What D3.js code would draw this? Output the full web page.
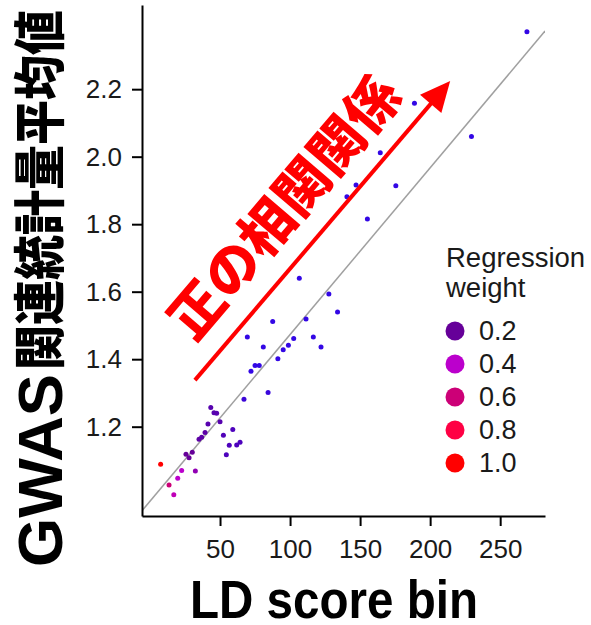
<!DOCTYPE html>
<html>
<head>
<meta charset="utf-8">
<script src="https://cdn.jsdelivr.net/npm/d3@7"></script>
<style>
  html, body { margin: 0; padding: 0; background: #fff; }
  svg { display: block; }
</style>
</head>
<body>
<svg id="chart" width="591" height="625"></svg>
<script>
// LD score bins (x), mean GWAS chi-square statistic (y), regression weight (colour)
const ldScore = [269.1, 188.8, 229.5, 164.4, 175.5, 147.1, 140.6, 155.2, 106.6, 127.7,
                 133.9, 87.6, 111.4, 69.5, 116.6, 102.6, 80.9, 98.8, 95.1, 122.1,
                 91.3, 75.0, 78.0, 72.1, 84.3, 67.1, 43.4, 45.7, 47.6, 50.0,
                 41.4, 59.1, 39.3, 52.4, 36.9, 35.0, 64.3, 61.9, 56.6, 30.2,
                 25.7, 27.9, 54.5, 7.6, 22.6, 32.4, 19.8, 13.6, 17.0];
const meanChi2 = [2.370, 2.158, 2.060, 2.012, 1.914, 1.916, 1.881, 1.815, 1.640, 1.593,
                  1.540, 1.512, 1.519, 1.466, 1.466, 1.461, 1.436, 1.441, 1.428, 1.436,
                  1.401, 1.381, 1.381, 1.364, 1.301, 1.281, 1.257, 1.241, 1.240, 1.215,
                  1.208, 1.192, 1.183, 1.175, 1.169, 1.163, 1.154, 1.146, 1.145, 1.124,
                  1.118, 1.108, 1.117, 1.089, 1.070, 1.069, 1.047, 1.027, 0.998];
const weights = [0.03, 0.03, 0.03, 0.03, 0.03, 0.03, 0.03, 0.03, 0.03, 0.03,
                 0.03, 0.03, 0.03, 0.03, 0.03, 0.03, 0.03, 0.03, 0.03, 0.03,
                 0.03, 0.03, 0.03, 0.03, 0.05, 0.06, 0.15, 0.15, 0.15, 0.15,
                 0.15, 0.12, 0.17, 0.13, 0.17, 0.17, 0.12, 0.12, 0.12, 0.2,
                 0.2, 0.2, 0.12, 1.0, 0.4, 0.3, 0.4, 0.6, 0.45];

// Fitted regression line: mean chi2 = intercept + slope * LD score
const fitIntercept = 0.979;
const fitSlope = 0.00494;

const xTicks = [50, 100, 150, 200, 250];
const yTicks = [1.2, 1.4, 1.6, 1.8, 2.0, 2.2];
const legendValues = [0.2, 0.4, 0.6, 0.8, 1.0];
const weightStops = [0, 0.2, 0.4, 0.6, 0.8, 1.0];
const weightColors = ["#2a08f2", "#660099", "#bb00cc", "#cc0077", "#ff0044", "#ff0000"];

// Annotation arrow, in data units
const arrowFrom = [32.1, 1.338];
const arrowTo = [214.3, 2.224];
const noteCenter = [93.9, 1.858];
const noteText = "正の相関関係";

const svg = d3.select("#chart");

const x = d3.scaleLinear().domain([-5.7, 282]).range([142, 545]);
const y = d3.scaleLinear().domain([0.9354, 2.4494]).range([516, 5]);
const colour = d3.scaleLinear().domain(weightStops).range(weightColors).interpolate(d3.interpolateRgb);

const tickFont = "'Liberation Sans', Arial, Helvetica, sans-serif";
const cjkFont = "'Noto Sans CJK JP', sans-serif";

svg.append("defs").append("clipPath").attr("id", "panel")
  .append("rect")
  .attr("x", x.range()[0]).attr("y", y.range()[1])
  .attr("width", x.range()[1] - x.range()[0])
  .attr("height", y.range()[0] - y.range()[1]);

// Regression line
const [x0, x1] = x.domain();
svg.append("line")
  .attr("clip-path", "url(#panel)")
  .attr("x1", x(x0)).attr("y1", y(fitIntercept + fitSlope * x0))
  .attr("x2", x(x1)).attr("y2", y(fitIntercept + fitSlope * x1))
  .attr("stroke", "#a0a0a0")
  .attr("stroke-width", 1.5);

// Points
const points = ldScore.map((v, i) => ({ x: v, y: meanChi2[i], w: weights[i] }));
svg.append("g").selectAll("circle")
  .data(points)
  .join("circle")
  .attr("cx", d => x(d.x))
  .attr("cy", d => y(d.y))
  .attr("r", 2.5)
  .attr("fill", d => colour(d.w));

// Axes
const xAxis = svg.append("g")
  .attr("transform", `translate(0,${y.range()[0]})`)
  .call(d3.axisBottom(x).tickValues(xTicks).tickSize(10).tickSizeOuter(0).tickPadding(14));
const yAxis = svg.append("g")
  .attr("transform", `translate(${x.range()[0]},0)`)
  .call(d3.axisLeft(y).tickValues(yTicks).tickFormat(d3.format(".1f")).tickSize(10).tickSizeOuter(0).tickPadding(10));

[xAxis, yAxis].forEach(g => {
  g.select(".domain").attr("stroke", "#000").attr("stroke-width", 2);
  g.selectAll(".tick line").attr("stroke", "#000").attr("stroke-width", 2);
  g.selectAll(".tick text")
    .attr("fill", "#1a1a1a")
    .style("font-family", tickFont)
    .style("font-size", "26px");
});

// Axis titles
svg.append("text")
  .attr("x", 190).attr("y", 618)
  .attr("textLength", 288)
  .attr("lengthAdjust", "spacingAndGlyphs")
  .style("font-family", tickFont)
  .style("font-weight", "bold")
  .style("font-size", "53px")
  .attr("fill", "#000")
  .text("LD score bin");

// Vertical title: Latin part and Japanese part, each condensed to its own length
const yTitle = svg.append("g").attr("transform", "translate(62,567) rotate(-90)");
yTitle.append("text")
  .attr("x", 0).attr("y", 0)
  .attr("textLength", 193)
  .attr("lengthAdjust", "spacingAndGlyphs")
  .style("font-family", tickFont)
  .style("font-weight", "bold")
  .style("font-size", "63px")
  .attr("fill", "#000")
  .text("GWAS");
yTitle.append("text")
  .attr("x", 197).attr("y", -3)
  .attr("textLength", 360)
  .attr("lengthAdjust", "spacingAndGlyphs")
  .style("font-family", cjkFont)
  .style("font-weight", 900)
  .style("font-size", "52px")
  .attr("fill", "#000")
  .text("関連統計量平均値");

// Legend
const legend = svg.append("g").attr("transform", "translate(446,0)");
legend.append("text").attr("x", 0).attr("y", 267)
  .style("font-family", tickFont).style("font-size", "27.5px").attr("fill", "#1a1a1a")
  .text("Regression");
legend.append("text").attr("x", 0).attr("y", 297)
  .style("font-family", tickFont).style("font-size", "27.5px").attr("fill", "#1a1a1a")
  .text("weight");
const key = d3.scalePoint().domain(legendValues).range([331, 463]);
const items = legend.selectAll("g.item").data(legendValues).join("g")
  .attr("class", "item")
  .attr("transform", d => `translate(0,${key(d)})`);
items.append("circle").attr("cx", 9).attr("cy", 0).attr("r", 9.5).attr("fill", d => colour(d));
items.append("text").attr("x", 33).attr("y", 0).attr("dy", "0.35em")
  .style("font-family", tickFont).style("font-size", "27px").attr("fill", "#1a1a1a")
  .text(d => d3.format(".1f")(d));

// Arrow and note
const ax0 = x(arrowFrom[0]), ay0 = y(arrowFrom[1]);
const ax1 = x(arrowTo[0]), ay1 = y(arrowTo[1]);
const ang = Math.atan2(ay1 - ay0, ax1 - ax0);
const headLen = 30, headHalf = 14;
const ux = Math.cos(ang), uy = Math.sin(ang);
const bx = ax1 - ux * headLen, by = ay1 - uy * headLen;
svg.append("line")
  .attr("x1", ax0).attr("y1", ay0)
  .attr("x2", bx + ux * 2).attr("y2", by + uy * 2)
  .attr("stroke", "#ff0000").attr("stroke-width", 4);
svg.append("path")
  .attr("d", `M${ax1},${ay1} L${bx - uy * headHalf},${by + ux * headHalf} L${bx + uy * headHalf},${by - ux * headHalf} Z`)
  .attr("fill", "#ff0000");

svg.append("text")
  .attr("transform", `translate(${x(noteCenter[0])},${y(noteCenter[1])}) rotate(${ang * 180 / Math.PI})`)
  .attr("text-anchor", "middle")
  .attr("dominant-baseline", "central")
  .style("font-family", cjkFont)
  .style("font-weight", 900)
  .style("font-size", "54px")
  .attr("fill", "#ff0000")
  .text(noteText);
</script>
</body>
</html>
